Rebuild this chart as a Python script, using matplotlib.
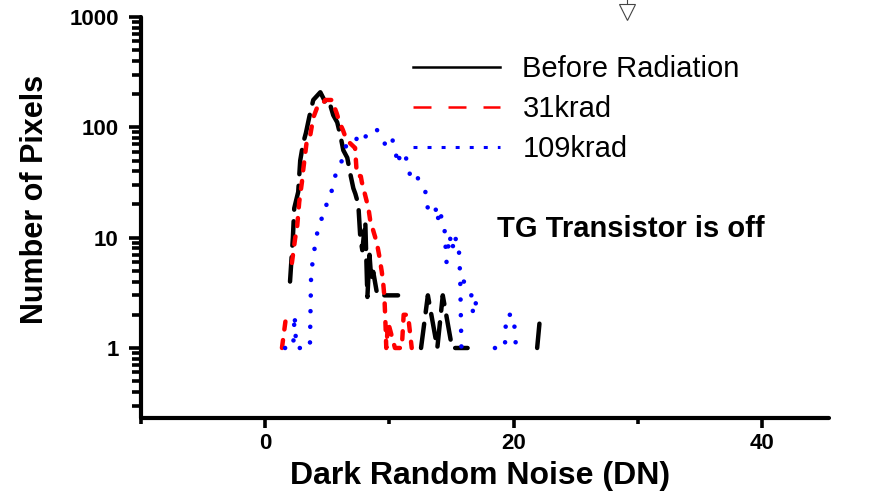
import numpy as np
import matplotlib
matplotlib.use("Agg")
import matplotlib.pyplot as plt
from matplotlib.lines import Line2D
from matplotlib.ticker import LogLocator, MultipleLocator, NullFormatter

plt.rcParams['font.family'] = ['Liberation Sans', 'DejaVu Sans']

# pixel-count histograms (0 = empty bin, not drawn on log axis)
before_x = [2.0, 2.23, 2.34, 2.66, 2.82, 3.06, 3.28, 3.55, 3.87, 4.44, 4.68, 5.0, 5.24,
            5.48, 5.8, 6.05, 6.29, 6.61, 6.85, 7.1, 7.26, 7.5, 7.66, 7.82, 8.06, 8.23,
            8.4, 8.55, 8.7, 9.03, 9.7, 10.7, 11.2, 12.55, 13.1, 13.86, 14.3, 15.05,
            16.3, 16.7, 21.9, 22.15]
before_y = [4, 10, 18.5, 26, 50, 72, 89, 124, 177, 208, 184, 152, 159,
            129, 111, 85, 62, 53, 38, 28, 25, 20, 10, 7.7, 14, 2.9,
            7, 4.1, 4.9, 3, 3, 3, 0, 1, 3, 1, 3, 1,
            1, 0, 1, 2]

k31_x = [1.35, 1.7, 1.95, 2.15, 2.42, 2.56, 2.74, 2.96, 3.06, 3.36, 3.63, 3.87, 4.17,
         4.44, 4.84, 5.38, 5.6, 5.75, 6.0, 6.25, 6.55, 7.24, 7.38, 7.7, 7.78, 8.31,
         8.45, 8.69, 8.99, 9.2, 9.39, 9.5, 9.6, 9.65, 9.7, 9.75, 9.9, 10.45, 11.0,
         11.15, 11.5, 11.8]
k31_y = [1, 2, 0, 5.9, 10, 12, 21, 32, 41, 77, 85, 122, 150,
         153, 177, 177, 150, 135, 110, 95, 77, 65, 37, 36, 32, 18.6,
         14.5, 11.7, 9, 6.7, 4.9, 3.9, 2.9, 2.1, 1.5, 1, 1.7, 1, 1,
         2, 2, 1]

k109_x = [1.6, 2.25, 2.37, 2.5, 3.6, 3.7, 4.1, 4.45, 4.85, 4.97, 5.24, 5.65, 6.05,
          6.53, 6.85, 7.26, 7.66, 8.06, 8.47, 8.95, 9.27, 9.68, 10.16, 10.48, 10.65,
          10.94, 11.27, 11.7, 12.1, 12.4, 12.9, 13.05, 13.35, 13.7, 13.85, 14.1, 14.3,
          14.45, 14.6, 14.85, 15.05, 15.3, 15.45, 15.6, 15.7, 15.8, 15.9, 16.0, 16.6,
          16.75, 17.1, 17.5, 17.8, 18.5, 19.3, 19.4, 20.0, 20.2]
k109_y = [1, 1, 2, 1, 1, 4.8, 10, 14.5, 16, 22, 23.5, 36.5, 45,
          69, 77, 75, 91, 82, 92, 98, 80, 70, 83, 63, 46,
          60, 57, 35.5, 38.6, 32.6, 26, 19, 17.4, 19.4, 14, 18, 12,
          11.5, 6, 10.6, 7.7, 10.6, 7.7, 7.7, 4.5, 1, 0, 4, 3,
          2, 3, 3, 0, 1, 1, 2, 2, 1]

labels = ['Before Radiation', '31krad', '109krad']
xticks = [0, 20, 40]
yticks = [1, 10, 100, 1000]
ytick_labels = ['1', '10', '100', '1000']

fig = plt.figure(figsize=(8.84, 4.95), dpi=100)
ax = fig.add_axes([141 / 884, 1 - 418 / 495, 688 / 884, 401 / 495])
ax.set_yscale('log', nonpositive='mask')

ax.plot(before_x, before_y, color='black', lw=3.2, ls=(0, (5.5, 2.6)),
        dash_capstyle='round')
ax.plot(k31_x, k31_y, color='red', lw=3.2, ls=(0, (1.8, 2.4)),
        dash_capstyle='round')
ax.plot(k109_x, k109_y, color='blue', lw=3.3, ls=(0, (0.01, 3.4)),
        dash_capstyle='round')

ax.set_xlim(-10, 45.4)
ax.set_ylim(0.232, 1000)

for s in ['top', 'right']:
    ax.spines[s].set_visible(False)
for s in ['left', 'bottom']:
    ax.spines[s].set_linewidth(3)
    ax.spines[s].set_capstyle('round')

ax.set_xticks(xticks, [str(v) for v in xticks], fontsize=16, fontweight='bold')
ax.xaxis.set_minor_locator(MultipleLocator(10))
ax.set_yticks(yticks, ytick_labels, fontsize=16, fontweight='bold')
ax.yaxis.set_minor_locator(LogLocator(base=10, subs=np.arange(2, 10)))
ax.yaxis.set_minor_formatter(NullFormatter())
ax.tick_params(axis='y', which='major', direction='out', length=9, width=2.6, pad=7)
ax.tick_params(axis='y', which='minor', direction='out', length=6.5, width=2.6)
ax.tick_params(axis='x', which='major', direction='out', length=7, width=2.6, pad=4)
ax.tick_params(axis='x', which='minor', direction='out', length=4.5, width=2.6)

ax.set_ylabel('Number of Pixels', fontsize=22, fontweight='bold')
ax.yaxis.set_label_coords(-0.132, 0.546)
ax.set_xlabel('Dark Random Noise (DN)', fontsize=23, fontweight='bold')
ax.xaxis.set_label_coords(0.493, -0.108)

handles = [Line2D([], [], color='black', lw=1.8),
           Line2D([], [], color='red', lw=1.8, ls=(0, (7.2, 6.8))),
           Line2D([], [], color='blue', lw=2.2, ls=(0, (1.3, 3.3)))]
ax.legend(handles, labels, loc='upper left', bbox_to_anchor=(0.395, 0.904),
          frameon=False, fontsize=21, borderpad=0, borderaxespad=0,
          handlelength=3.0, handletextpad=0.76, labelspacing=0.41)

ax.text(0.517, 0.451, 'TG Transistor is off', transform=ax.transAxes,
        fontsize=21, fontweight='bold', ha='left', va='baseline', clip_on=False)

# small cursor marker above the plot area
marker_x = 29.1
ax.plot([marker_x, marker_x], [1290, 1500], color='#444444', lw=0.8, clip_on=False)
ax.plot([marker_x], [1120], marker='v', ms=11, mfc='white', mec='#444444',
        mew=0.8, clip_on=False)

fig.savefig('out.png', dpi=100)
